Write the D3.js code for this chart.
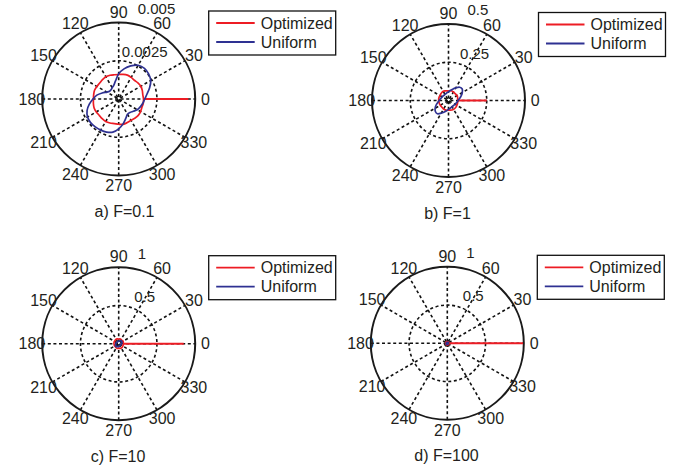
<!DOCTYPE html>
<html>
<head>
<meta charset="utf-8">
<script src="https://cdn.jsdelivr.net/npm/d3@7"></script>
<style>
  html, body { margin: 0; padding: 0; background: #fff; }
  text { font-family: "Liberation Sans", Arial, Helvetica, sans-serif; fill: #231f20; }
</style>
</head>
<body>
<svg id="chart" width="688" height="472"></svg>
<script>
// ---------------- data ----------------
const thetaDeg = [0,10,20,30,40,50,60,70,80,90,100,110,120,130,140,150,160,170,
                  180,190,200,210,220,230,240,250,260,270,280,290,300,310,320,330,340,350];
const angleTicks = [0,30,60,90,120,150,180,210,240,270,300,330];
const seriesNames = ["Optimized", "Uniform"];
const captions = ["a) F=0.1", "b) F=1", "c) F=10", "d) F=100"];
const rMax = [0.005, 0.5, 1, 1];
const rTickValues = [[0.0025, 0.005], [0.25, 0.5], [0.5, 1], [0.5, 1]];
const rTickLabels = [["0.0025", "0.005"], ["0.25", "0.5"], ["0.5", "1"], ["0.5", "1"]];

// peak of the optimized pattern at 0 degrees
const optPeak = [0.00455, 0.25, 0.85, 0.99];

// Panel a) F=0.1
const optA = [0.00162,0.00160,0.00164,0.00167,0.00164,0.00160,0.00163,0.00166,0.00163,0.00160,
              0.00161,0.00165,0.00168,0.00165,0.00162,0.00165,0.00168,0.00166,0.00165,0.00168,
              0.00171,0.00169,0.00166,0.00168,0.00170,0.00167,0.00163,0.00165,0.00168,0.00164,
              0.00161,0.00164,0.00167,0.00165,0.00161,0.00163];
const uniA = [0.00170,0.00188,0.00215,0.00242,0.00255,0.00262,0.00255,0.00230,0.00200,0.00165,
              0.00120,0.00095,0.00085,0.00078,0.00078,0.00090,0.00115,0.00145,0.00168,0.00195,
              0.00220,0.00235,0.00240,0.00238,0.00235,0.00230,0.00220,0.00195,0.00165,0.00135,
              0.00115,0.00115,0.00125,0.00140,0.00150,0.00160];
// Panel b) F=1
const optB = [0.062,0.061,0.063,0.065,0.063,0.062,0.064,0.066,0.065,0.063,0.064,0.067,
              0.069,0.068,0.066,0.064,0.065,0.065,0.064,0.063,0.063,0.062,0.061,0.062,
              0.064,0.065,0.065,0.063,0.064,0.066,0.067,0.066,0.065,0.063,0.062,0.061];
const uniB = [0.062,0.073,0.088,0.104,0.117,0.113,0.095,0.079,0.066,0.057,0.052,0.048,
              0.046,0.045,0.046,0.047,0.050,0.055,0.061,0.071,0.086,0.101,0.112,0.113,
              0.096,0.080,0.067,0.058,0.052,0.049,0.047,0.046,0.047,0.049,0.052,0.057];
// Panel c) F=10
const optC = [0.062,0.060,0.063,0.065,0.062,0.060,0.063,0.066,0.064,0.061,0.063,0.066,
              0.067,0.065,0.063,0.062,0.064,0.063,0.062,0.060,0.062,0.060,0.059,0.061,
              0.063,0.065,0.064,0.062,0.063,0.065,0.066,0.065,0.063,0.062,0.061,0.060];
const uniC = [0.036,0.040,0.045,0.049,0.051,0.050,0.046,0.041,0.036,0.033,0.031,0.029,
              0.028,0.028,0.028,0.029,0.031,0.033,0.036,0.040,0.045,0.049,0.051,0.050,
              0.046,0.041,0.036,0.033,0.031,0.029,0.028,0.028,0.028,0.029,0.031,0.033];
// Panel d) F=100
const optD = [0.022,0.021,0.023,0.022,0.021,0.022,0.023,0.022,0.021,0.022,0.023,0.022,
              0.021,0.022,0.023,0.022,0.021,0.022,0.023,0.022,0.021,0.022,0.023,0.022,
              0.021,0.022,0.023,0.022,0.021,0.022,0.023,0.022,0.021,0.022,0.023,0.022];
const uniD = [0.014,0.015,0.016,0.017,0.017,0.016,0.015,0.014,0.013,0.013,0.012,0.012,
              0.012,0.012,0.013,0.013,0.014,0.014,0.014,0.015,0.016,0.017,0.017,0.016,
              0.015,0.014,0.013,0.013,0.012,0.012,0.012,0.012,0.013,0.013,0.014,0.014];

const optSeries = [optA, optB, optC, optD];
const uniSeries = [uniA, uniB, uniC, uniD];

// ---------------- layout / style ----------------
const R = 76.5;
const panelCenters = [[118.7, 99], [448.5, 100.5], [118.7, 343.7], [447.3, 343.3]];
const captionX = [124.5, 447.5, 118, 446.5];
const colors = ["#ed1c24", "#2e3192"];

const svg = d3.select("#chart");
svg.append("rect").attr("width", 688).attr("height", 472).attr("fill", "#fff");

const toRad = d => d * Math.PI / 180;

panelCenters.forEach((c, p) => {
  const [cx, cy] = c;
  const g = svg.append("g").attr("transform", `translate(${cx},${cy})`);
  const r = d3.scaleLinear().domain([0, rMax[p]]).range([0, R]);

  // inner dashed circle(s)
  rTickValues[p].slice(0, -1).forEach(v => {
    g.append("circle").attr("r", r(v)).attr("fill", "none")
      .attr("stroke", "#111").attr("stroke-width", 1.6).attr("stroke-dasharray", "3,2.6");
  });
  // spokes
  const spokes = angleTicks.slice(0, 6);
  spokes.forEach(a => {
    const t = toRad(a);
    g.append("line")
      .attr("x1", -r(rMax[p]) * Math.cos(t)).attr("y1", r(rMax[p]) * Math.sin(t))
      .attr("x2", r(rMax[p]) * Math.cos(t)).attr("y2", -r(rMax[p]) * Math.sin(t))
      .attr("stroke", "#111").attr("stroke-width", 1.6).attr("stroke-dasharray", "3,2.6");
  });
  // outer solid circle
  g.append("circle").attr("r", r(rMax[p])).attr("fill", "none")
    .attr("stroke", "#1a1a1a").attr("stroke-width", 2);

  // angle labels
  angleTicks.forEach(a => {
    const t = toRad(a);
    const rr = R * 1.135;
    g.append("text")
      .attr("x", rr * Math.cos(t)).attr("y", -rr * Math.sin(t))
      .attr("text-anchor", "middle").attr("dominant-baseline", "central")
      .attr("font-size", 16).text(String(a));
  });
  // radial tick labels
  g.append("text").attr("x", 26).attr("y", -r(rTickValues[p][0]) * 1.237)
    .attr("text-anchor", "middle").attr("dominant-baseline", "central")
    .attr("font-size", 15).text(rTickLabels[p][0]);
  g.append("text").attr("x", 19).attr("y", -r(rTickValues[p][1]) * 1.185)
    .attr("text-anchor", "start").attr("dominant-baseline", "central")
    .attr("font-size", 15).text(rTickLabels[p][1]);

  // curves
  const line = d3.lineRadial()
    .angle(d => Math.PI / 2 - toRad(d[0]))
    .radius(d => r(d[1]))
    .curve(d3.curveCatmullRomClosed);
  const optPts = thetaDeg.map((t, i) => [t, optSeries[p][i]]);
  const uniPts = thetaDeg.map((t, i) => [t, uniSeries[p][i]]);

  g.append("path").attr("d", line(optPts)).attr("fill", "none")
    .attr("stroke", colors[0]).attr("stroke-width", 1.7).attr("stroke-linejoin", "round");
  // spike at 0 deg
  const spike = d3.lineRadial()
    .angle(d => Math.PI / 2 - toRad(d[0]))
    .radius(d => r(d[1]));
  g.append("path").attr("d", spike([[0, optSeries[p][0]], [0, optPeak[p]]]))
    .attr("fill", "none").attr("stroke", colors[0]).attr("stroke-width", 2);
  g.append("path").attr("d", line(uniPts)).attr("fill", "none")
    .attr("stroke", colors[1]).attr("stroke-width", 1.7).attr("stroke-linejoin", "round");

  // legend
  const lg = g.append("g").attr("transform", `translate(90,-88)`);
  lg.append("rect").attr("width", 127).attr("height", 44)
    .attr("fill", "#fff").attr("stroke", "#111").attr("stroke-width", 1.3);
  seriesNames.forEach((n, i) => {
    const y = 12 + i * 19;
    lg.append("line").attr("x1", 7.5).attr("x2", 46).attr("y1", y).attr("y2", y)
      .attr("stroke", colors[i]).attr("stroke-width", 1.8);
    lg.append("text").attr("x", 52).attr("y", y).attr("dominant-baseline", "central")
      .attr("font-size", 16).text(n);
  });

  // caption
  svg.append("text").attr("x", captionX[p]).attr("y", cy + 112.5)
    .attr("text-anchor", "middle").attr("dominant-baseline", "central")
    .attr("font-size", 16).text(captions[p]);
});
</script>
</body>
</html>
